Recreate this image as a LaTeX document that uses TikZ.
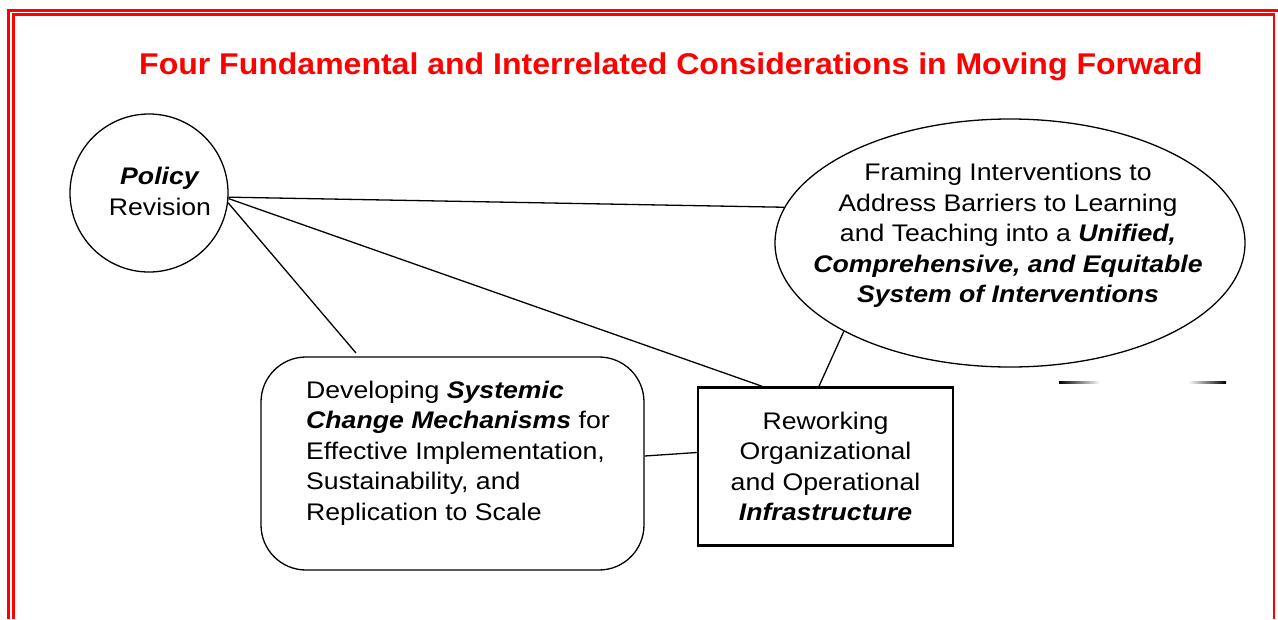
\documentclass[tikz,border=0pt]{standalone}
\usepackage{fontspec}
\setmainfont{Liberation Sans}[FakeStretch=1.11]
\newfontfamily\titlefont{Liberation Sans}[FakeStretch=1.067]
\usetikzlibrary{shapes.geometric}
\definecolor{bordred}{RGB}{255,0,0}
\newcommand{\bi}[1]{\textbf{\textit{#1}}}
\begin{document}
\begin{tikzpicture}[x=1pt,y=-1pt,
  body/.style={font=\fontsize{24}{30.5}\selectfont, inner sep=0pt},
  shapeline/.style={draw=black, line width=1.3pt, inner sep=0pt},
  link/.style={draw=black, line width=1.3pt},
  frameline/.style={draw=bordred, line width=2.7pt}]
\useasboundingbox (0,0) rectangle (1278,619);
\fill[white] (0,0) rectangle (1278,619);
% border
\draw[frameline] (7,10.3) -- (1278,10.3);
\draw[frameline] (8.2,8.9) -- (8.2,619);
\draw[frameline] (12,14.7) -- (1275.3,14.7);
\draw[frameline] (13.4,13.3) -- (13.4,619);
\draw[frameline] (1274,13.3) -- (1274,619);
% title
\node[font=\titlefont\fontsize{30}{36}\selectfont\bfseries, text=bordred, inner sep=0pt] (title) at (671,66.5) {Four Fundamental and Interrelated Considerations in Moving Forward};
% shapes
\node[circle, shapeline, minimum size=158pt] (policy) at (149,193) {};
\node[ellipse, shapeline, minimum width=470pt, minimum height=248pt] (frame) at (1010,243) {};
\node[rectangle, shapeline, rounded corners=45pt, minimum width=383pt, minimum height=213pt] (dev) at (452.5,463.5) {};
\node[rectangle, shapeline, line width=2.5pt, minimum width=255pt, minimum height=158pt, align=center, font=\fontsize{24}{30.5}\selectfont] (rework) at (825.5,466.5)
  {Reworking\\Organizational\\and Operational\\\bi{Infrastructure}};
% texts
\node[body, align=center] (policytext) at (160,191.5) {\bi{Policy}\\Revision};
\node[body, align=center] (frametext) at (1008,235.5) {Framing Interventions to\\Address Barriers to Learning\\and Teaching into a \bi{Unified,}\\\bi{Comprehensive, and Equitable}\\\bi{System of Interventions}};
\node[body, align=left, anchor=west] (devtext) at (306,453) {Developing \bi{Systemic}\\\bi{Change Mechanisms} for\\Effective Implementation,\\Sustainability, and\\Replication to Scale};
% connectors
\coordinate (devtop) at (356,353);
\draw[link] (policy.-3) -- (frame.171);
\draw[link] (policy.-4.5) -- ([xshift=-63.5pt]rework.north);
\draw[link] (policy.-7) -- (devtop);
\draw[link] (frame.208) -- ([xshift=-6.5pt]rework.north);
\draw[link] ([yshift=7.5pt]dev.east) -- ([yshift=14pt]rework.west);
% faint stray lines
\shade[left color=black, right color=white] (1059,381.6) rectangle (1100,383);
\shade[left color=white, right color=black] (1188,381.6) rectangle (1226,383);
\end{tikzpicture}
\end{document}
